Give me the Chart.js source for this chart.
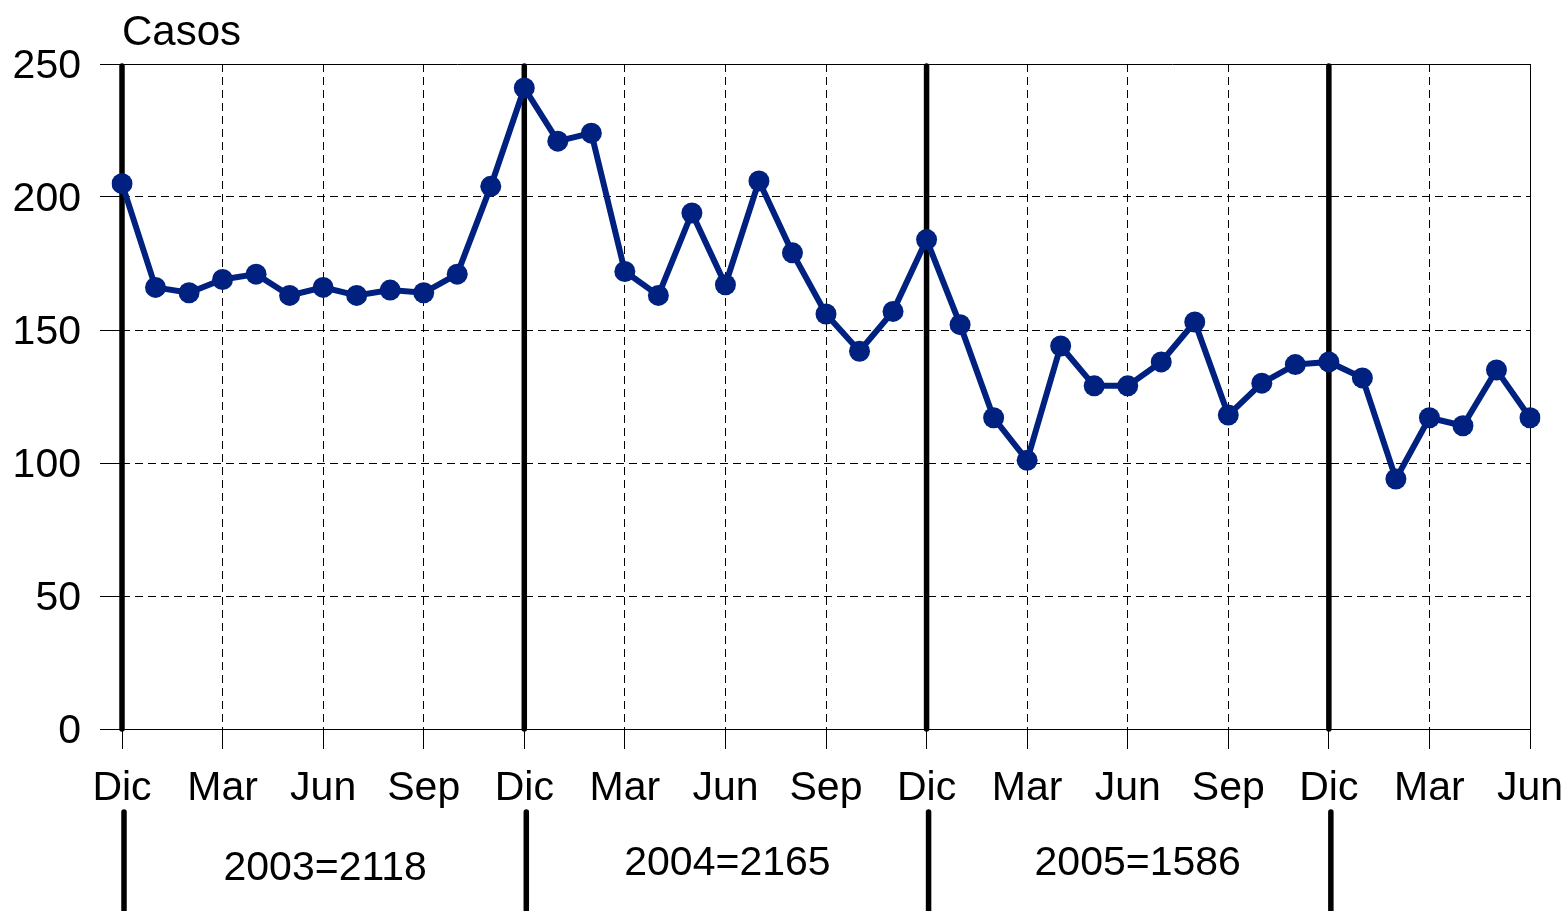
<!DOCTYPE html>
<html>
<head>
<meta charset="utf-8">
<script src="https://cdn.jsdelivr.net/npm/chart.js@4/dist/chart.umd.min.js"></script>
<style>
  html, body { margin: 0; padding: 0; background: #fff; }
  #wrap { width: 1568px; height: 911px; position: relative; }
</style>
</head>
<body>
<div id="wrap"><canvas id="chart"></canvas></div>
<script>
// Monthly cases, Dec 2002 .. Jun 2006
const monthNames = ['Dic', 'Ene', 'Feb', 'Mar', 'Abr', 'May', 'Jun', 'Jul', 'Ago', 'Sep', 'Oct', 'Nov'];
const casos = [
  205, 166, 164, 169, 171, 163, 166, 163, 165, 164, 171, 204,
  241, 221, 224, 172, 163, 194, 167, 206, 179, 156, 142, 157,
  184, 152, 117, 101, 144, 129, 129, 138, 153, 118, 130, 137,
  138, 132, 94, 117, 114, 135, 117
];
const yTicks = [0, 50, 100, 150, 200, 250];
const yearLabels = ['2003=2118', '2004=2165', '2005=1586'];
const yAxisTitle = 'Casos';

const months = casos.map((v, i) => monthNames[i % 12]);
const FONT = '"Liberation Sans", Arial, sans-serif';
const NAVY = '#00217f';
const GRID = '#000';

// Thick year separators, year totals and the "Casos" label
const yearPlugin = {
  id: 'yearMarks',
  beforeDatasetsDraw(chart) {
    const { ctx, chartArea, scales } = chart;
    const x = scales.x;
    ctx.save();
    // frame lines: top, right
    ctx.strokeStyle = '#000';
    ctx.lineWidth = 1;
    ctx.beginPath();
    ctx.moveTo(chartArea.left - 22, chartArea.top + 0.5);
    ctx.lineTo(chartArea.right, chartArea.top + 0.5);
    ctx.moveTo(chartArea.right + 0.5, chartArea.top);
    ctx.lineTo(chartArea.right + 0.5, chartArea.bottom + 20);
    ctx.stroke();
    // thick separators at each December
    ctx.lineWidth = 5.5;
    ctx.lineCap = 'round';
    months.forEach((m, i) => {
      if (m !== 'Dic') return;
      const px = x.getPixelForValue(i);
      ctx.beginPath();
      ctx.moveTo(px, chartArea.top + 2);
      ctx.lineTo(px, chartArea.bottom);
      ctx.stroke();
    });
    ctx.restore();
  },
  afterDraw(chart) {
    const { ctx, chartArea, scales } = chart;
    const x = scales.x;
    const decs = [];
    months.forEach((m, i) => { if (m === 'Dic') decs.push(x.getPixelForValue(i) + 2); });
    ctx.save();
    ctx.strokeStyle = '#000';
    ctx.lineWidth = 5.5;
    ctx.lineCap = 'round';
    decs.forEach(px => {
      ctx.beginPath();
      ctx.moveTo(px, 812);
      ctx.lineTo(px, 915);
      ctx.stroke();
    });
    ctx.fillStyle = '#000';
    ctx.font = '41px ' + FONT;
    ctx.textAlign = 'center';
    ctx.textBaseline = 'middle';
    yearLabels.forEach((t, i) => {
      const cx = (decs[i] + decs[i + 1]) / 2;
      ctx.fillText(t, cx + (i === 2 ? 8 : 0), i === 0 ? 869 : 864);
    });
    ctx.textAlign = 'left';
    ctx.font = '42px ' + FONT;
    ctx.fillText(yAxisTitle, chartArea.left, 33);
    ctx.restore();
  }
};

const chart = new Chart(document.getElementById('chart'), {
  type: 'line',
  data: {
    labels: months,
    datasets: [{
      data: casos,
      borderColor: NAVY,
      backgroundColor: NAVY,
      borderWidth: 6,
      pointRadius: 10.5,
      pointBackgroundColor: NAVY,
      pointBorderWidth: 0,
      tension: 0,
      fill: false
    }]
  },
  options: {
    responsive: true,
    maintainAspectRatio: false,
    animation: false,
    layout: { padding: { top: 64, right: 38, left: 0, bottom: 0 } },
    plugins: {
      legend: { display: false },
      tooltip: { enabled: false }
    },
    scales: {
      x: {
        offset: false,
        afterFit: (s) => { s.height = 182; s.paddingLeft = 0; s.paddingRight = 0; },
        grid: {
          color: (c) => (c.index % 3 === 0 ? GRID : 'transparent'),
          lineWidth: 1,
          tickLength: 20,
          tickBorderDash: [],
          tickColor: (c) => (c.index % 3 === 0 ? '#000' : 'transparent')
        },
        border: { display: true, color: '#000', width: 1, dash: [8, 5] },
        ticks: {
          autoSkip: false,
          maxRotation: 0,
          padding: 15,
          color: '#000',
          font: { family: FONT, size: 41 },
          callback: function (v, i) { return i % 3 === 0 ? months[i] : ''; }
        }
      },
      y: {
        min: yTicks[0],
        max: yTicks[yTicks.length - 1],
        afterFit: (s) => { s.width = 122; s.paddingTop = 0; s.paddingBottom = 0; },
        afterBuildTicks: (s) => { s.ticks = yTicks.map(v => ({ value: v })); },
        grid: {
          color: GRID,
          lineWidth: 1,
          tickLength: 22,
          tickBorderDash: [],
          tickColor: '#000'
        },
        border: { display: false, dash: [8, 5] },
        ticks: {
          padding: 19,
          labelOffset: 3,
          color: '#000',
          font: { family: FONT, size: 41 }
        }
      }
    }
  },
  plugins: [yearPlugin]
});
</script>
</body>
</html>
